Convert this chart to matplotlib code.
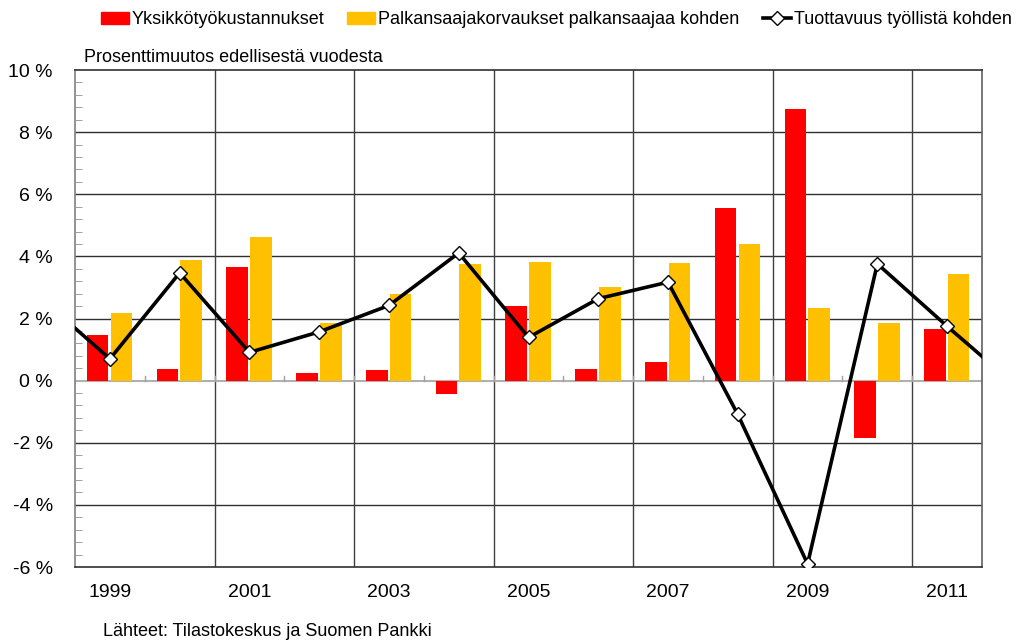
import numpy as np
import matplotlib.pyplot as plt
from matplotlib.patches import Patch
from matplotlib.lines import Line2D

plt.rcParams['font.family'] = ['Liberation Sans', 'DejaVu Sans']

# Vuodet ja sarjat (%-muutos edellisestä vuodesta)
vuodet = list(range(1999, 2012))
yksikkotyokustannukset = [1.46, 0.38, 3.65, 0.25, 0.34, -0.42, 2.39, 0.38, 0.60, 5.56, 8.73, -1.84, 1.66]
palkansaajakorvaukset = [2.19, 3.87, 4.61, 1.84, 2.80, 3.76, 3.82, 3.02, 3.79, 4.39, 2.34, 1.87, 3.44]
# tuottavuus: mukana myös 1998 ja 2012, jotka jäävät kuva-alan reunan yli
tuottavuus_vuodet = list(range(1998, 2013))
tuottavuus = [2.68, 0.70, 3.47, 0.91, 1.57, 2.42, 4.11, 1.39, 2.64, 3.17, -1.09, -5.9, 3.76, 1.75, -0.19]

punainen = '#FF0000'
keltainen = '#FFC000'

fig = plt.figure(figsize=(10.26, 6.43), dpi=100)
ax = fig.add_axes([75 / 1026, 1 - 567 / 643, 907 / 1026, 497 / 643])

x = np.arange(len(vuodet))
leveys = 0.31
ax.bar(x - 0.175, yksikkotyokustannukset, width=leveys, color=punainen, zorder=3)
ax.bar(x + 0.165, palkansaajakorvaukset, width=leveys, color=keltainen, zorder=3)

xt = np.array(tuottavuus_vuodet) - vuodet[0]
ax.plot(xt, tuottavuus, color='black', lw=2.6, marker='D', ms=7,
        mfc='white', mec='black', mew=1, zorder=4)

ax.set_xlim(-0.5, len(vuodet) - 0.5)
ax.set_ylim(-6, 10)

# vaakaviivat 2 %:n välein
ax.set_yticks(np.arange(-6, 11, 2))
ax.set_yticklabels([f'{v:.0f} %' for v in np.arange(-6, 11, 2)], fontsize=14)
ax.set_yticks(np.arange(-6, 10.01, 0.4), minor=True)
ax.tick_params(axis='y', which='major', length=0, pad=16)
ax.tick_params(axis='y', which='minor', direction='in', length=5, color='#909090')
for v in range(-4, 10, 2):
    if v != 0:
        ax.axhline(v, color='#303030', lw=1, zorder=1)
ax.axhline(0, color='#b0b0b0', lw=1.5, zorder=2)

# pystyviivat joka toisen vuoden rajalla
for b in np.arange(1.5, len(vuodet) - 0.5, 2):
    ax.axvline(b, color='#404040', lw=1, zorder=1)
# pienet merkit nollaviivalla vuosien rajoilla
for b in np.arange(0.5, len(vuodet) - 0.5, 1):
    ax.plot([b, b], [0, 0.15], color='#a0a0a0', lw=1, zorder=2)

ax.set_xticks(x[::2])
ax.set_xticklabels([str(v) for v in vuodet[::2]], fontsize=14)
ax.tick_params(axis='x', length=0, pad=12)

ax.spines['left'].set_color('#808080')
ax.spines['right'].set_color('#606060')
ax.spines['top'].set_color('#303030')
ax.spines['bottom'].set_color('#303030')
for s in ax.spines.values():
    s.set_linewidth(1.2)

fig.text(84 / 1026, 1 - 57 / 643, 'Prosenttimuutos edellisestä vuodesta',
         fontsize=13, va='center', ha='left')
fig.text(103 / 1026, 1 - 632 / 643, 'Lähteet: Tilastokeskus ja Suomen Pankki',
         fontsize=13, va='center', ha='left')

kahvat = [
    Patch(color=punainen),
    Patch(color=keltainen),
    Line2D([], [], color='black', lw=2.6, marker='D', ms=7, mfc='white', mec='black', mew=1),
]
nimet = ['Yksikkötyökustannukset', 'Palkansaajakorvaukset palkansaajaa kohden',
         'Tuottavuus työllistä kohden']
fig.legend(kahvat, nimet, loc='center', bbox_to_anchor=(556 / 1026, 1 - 20 / 643),
           ncol=3, frameon=False, fontsize=13, handlelength=1.55, handleheight=0.6,
           handletextpad=0.17, columnspacing=1.27, borderpad=0, borderaxespad=0)

plt.savefig('out.png', dpi=100)
